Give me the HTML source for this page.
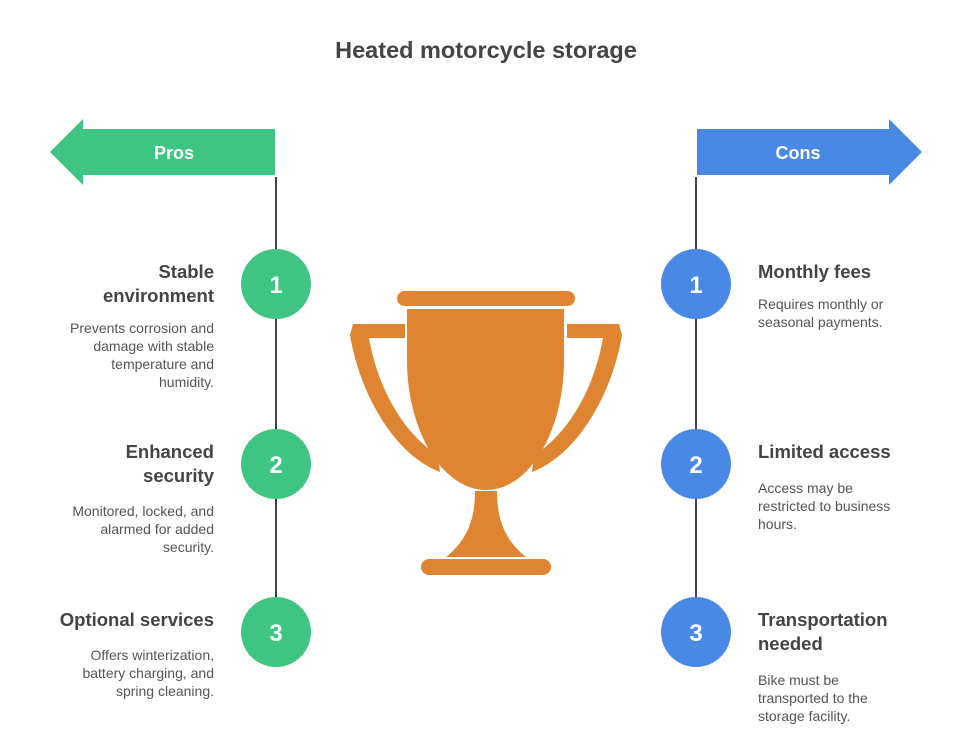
<!DOCTYPE html>
<html><head><meta charset="utf-8"><style>
body{margin:0;width:972px;height:754px;background:#fff;font-family:"Liberation Sans",sans-serif;position:relative;overflow:hidden}
.t{position:absolute;font-weight:bold;font-size:18.5px;line-height:24px;color:#444;white-space:nowrap}
.d{position:absolute;font-size:14px;line-height:18px;color:#555;white-space:nowrap}
.l{right:758px;text-align:right}
.r{left:758px}
</style></head><body>
<svg width="972" height="754" style="position:absolute;left:0;top:0">
<text x="486" y="58" text-anchor="middle" font-family="Liberation Sans" font-weight="bold" font-size="23.5" fill="#444">Heated motorcycle storage</text>
<polygon points="50,152 83,119 83,129 275,129 275,175 83,175 83,185" fill="#3ec584"/>
<text x="174" y="159" text-anchor="middle" font-family="Liberation Sans" font-weight="bold" font-size="18" fill="#fff">Pros</text>
<polygon points="922,152 889,119 889,129 697,129 697,175 889,175 889,185" fill="#4a88e5"/>
<text x="798" y="159" text-anchor="middle" font-family="Liberation Sans" font-weight="bold" font-size="18" fill="#fff">Cons</text>
<line x1="276" y1="177" x2="276" y2="600" stroke="#444" stroke-width="2"/>
<line x1="696" y1="177" x2="696" y2="600" stroke="#444" stroke-width="2"/>
<g fill="#3ec584"><circle cx="276" cy="284" r="35"/><circle cx="276" cy="464" r="35"/><circle cx="276" cy="632" r="35"/></g>
<g fill="#4a88e5"><circle cx="696" cy="284" r="35"/><circle cx="696" cy="464" r="35"/><circle cx="696" cy="632" r="35"/></g>
<g font-family="Liberation Sans" font-weight="bold" font-size="24" fill="#fff" text-anchor="middle">
<text x="276" y="293">1</text><text x="276" y="473">2</text><text x="276" y="641">3</text>
<text x="696" y="293">1</text><text x="696" y="473">2</text><text x="696" y="641">3</text></g>
<g fill="#df8531">
<rect x="397" y="291" width="178" height="15" rx="7.5"/>
<path d="M353,324 L405,324 L405,338 L369,338 C378,390 405,435 438,455 L440,472 C395,455 360,395 350,335 Z"/>
<path d="M619,324 L567,324 L567,338 L603,338 C594,390 567,435 534,455 L532,472 C577,455 612,395 622,335 Z"/>
<path d="M407,309 L564,309 L564,360 C564,430 530,490 486,490 C442,490 407,430 407,360 Z"/>
<path d="M475,491 L497,491 C497,520 505,540 526,557 L446,557 C467,540 475,520 475,491 Z"/>
<rect x="421" y="559" width="130" height="16" rx="8"/>
</g>
</svg>
<div class="t l" style="top:260px">Stable<br>environment</div>
<div class="d l" style="top:319px">Prevents corrosion and<br>damage with stable<br>temperature and<br>humidity.</div>
<div class="t l" style="top:440px">Enhanced<br>security</div>
<div class="d l" style="top:502px">Monitored, locked, and<br>alarmed for added<br>security.</div>
<div class="t l" style="top:608px">Optional services</div>
<div class="d l" style="top:646px">Offers winterization,<br>battery charging, and<br>spring cleaning.</div>
<div class="t r" style="top:260px">Monthly fees</div>
<div class="d r" style="top:295px">Requires monthly or<br>seasonal payments.</div>
<div class="t r" style="top:440px">Limited access</div>
<div class="d r" style="top:479px">Access may be<br>restricted to business<br>hours.</div>
<div class="t r" style="top:608px">Transportation<br>needed</div>
<div class="d r" style="top:671px">Bike must be<br>transported to the<br>storage facility.</div>
</body></html>
